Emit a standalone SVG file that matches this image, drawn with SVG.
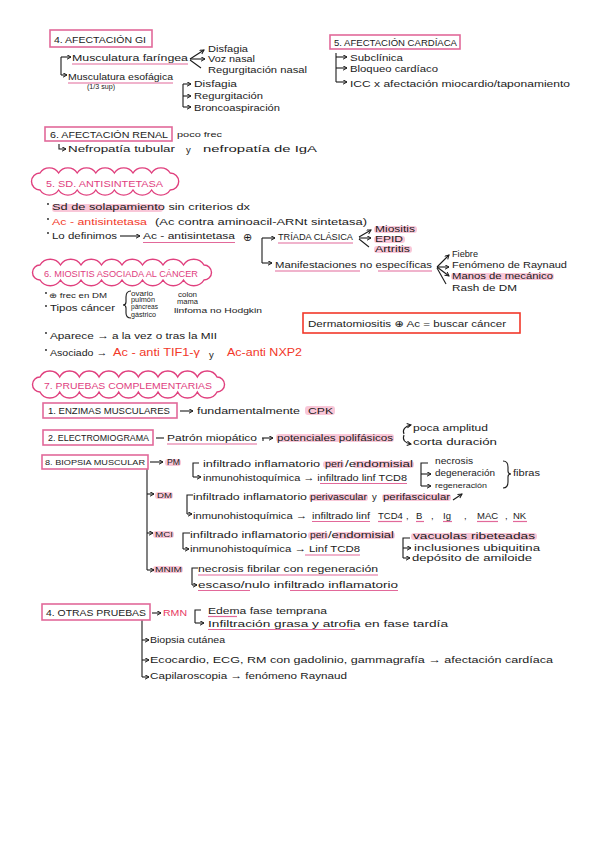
<svg xmlns="http://www.w3.org/2000/svg" width="600" height="848" viewBox="0 0 600 848">
<style>
text{font-family:"Liberation Sans","DejaVu Sans",sans-serif;font-size:9.5px;fill:#1b1b1b}
.sm{font-size:7px}
.xs{font-size:6.5px}
.cap{font-size:9px}
.pk{fill:#e0407e}
.rd{fill:#f2382a}
.box{fill:none;stroke:#e2699a;stroke-width:1.6}
.rbox{fill:none;stroke:#f2382a;stroke-width:1.6}
.cl{fill:none;stroke:#e0407e;stroke-width:1.4}
.hl{fill:#f6a9c3;opacity:.65}
.ul{stroke:#e2699a;stroke-width:1.2;fill:none}
.ln{stroke:#1b1b1b;stroke-width:1.1;fill:none}
.ar{stroke:#1b1b1b;stroke-width:1.1;fill:none;marker-end:url(#ah)}
</style>
<defs>
<marker id="ah" markerUnits="userSpaceOnUse" markerWidth="6" markerHeight="6" refX="4.5" refY="2.5" orient="auto">
<path d="M0.5,0.3 L4.5,2.5 L0.5,4.7" fill="none" stroke="#1b1b1b" stroke-width="1"/>
</marker>
</defs>
<rect width="600" height="848" fill="#ffffff"/>

<!-- highlights and underlines -->
<g id="marks">
<line class="ul" x1="72" y1="64" x2="188" y2="64"/>
<line class="ul" x1="68" y1="83" x2="173" y2="83"/>
<rect class="hl" x="52" y="204" width="111" height="8" rx="3"/>
<line class="ul" x1="143" y1="242.5" x2="235" y2="242.5"/>
<line class="ul" x1="278" y1="243" x2="353" y2="243"/>
<rect class="hl" x="374" y="226" width="43" height="7" rx="3"/>
<rect class="hl" x="374" y="236" width="31" height="7" rx="3"/>
<rect class="hl" x="374" y="246" width="38" height="7" rx="3"/>
<line class="ul" x1="275" y1="271" x2="360" y2="271"/>
<line class="ul" x1="378" y1="271" x2="432" y2="271"/>
<rect class="hl" x="451" y="273" width="103" height="7" rx="3"/>
<rect class="hl" x="305" y="406" width="30" height="9" rx="3"/>
<line class="ul" x1="167" y1="444" x2="257" y2="444"/>
<rect class="hl" x="276" y="434" width="118" height="8" rx="3"/>
<rect class="hl" x="165" y="459" width="16" height="7" rx="3"/>
<rect class="hl" x="323" y="461" width="21" height="7" rx="3"/>
<rect class="hl" x="353" y="461" width="61" height="7" rx="3"/>
<line class="ul" x1="320" y1="483.5" x2="407" y2="483.5"/>
<rect class="hl" x="155" y="492" width="18" height="7" rx="3"/>
<rect class="hl" x="309" y="494" width="59" height="7" rx="3"/>
<rect class="hl" x="382" y="494" width="69" height="7" rx="3"/>
<line class="ul" x1="312" y1="521.5" x2="370" y2="521.5"/>
<line class="ul" x1="378" y1="521.5" x2="402" y2="521.5"/>
<line class="ul" x1="416" y1="521.5" x2="424" y2="521.5"/>
<line class="ul" x1="443" y1="521.5" x2="452" y2="521.5"/>
<line class="ul" x1="477" y1="521.5" x2="498" y2="521.5"/>
<line class="ul" x1="513" y1="521.5" x2="527" y2="521.5"/>
<rect class="hl" x="153" y="531" width="21" height="7" rx="3"/>
<rect class="hl" x="308" y="532" width="20" height="7" rx="3"/>
<rect class="hl" x="334" y="532" width="61" height="7" rx="3"/>
<line class="ul" x1="305" y1="555" x2="360" y2="555"/>
<rect class="hl" x="411" y="533" width="126" height="7" rx="3"/>
<rect class="hl" x="153" y="566" width="30" height="7" rx="3"/>
<line class="ul" x1="198" y1="575" x2="378" y2="575"/>
<line class="ul" x1="198" y1="590.5" x2="250" y2="590.5"/>
<line class="ul" x1="290" y1="590.5" x2="398" y2="590.5"/>
<line class="ul" x1="208" y1="616.5" x2="237" y2="616.5"/>
<line class="ul" x1="208" y1="629.5" x2="355" y2="629.5"/>
</g>

<g id="connectors">
<path class="ln" d="M61,57 V75"/>
<path class="ar" d="M61,57 H71"/>
<path class="ar" d="M61,75 H67"/>
<path class="ar" d="M190,59 L204,50"/>
<path class="ar" d="M190,59 H205"/>
<path class="ln" d="M190,60 L201,68"/>
<path class="ln" d="M183,84 V107"/>
<path class="ar" d="M183,84 H191"/>
<path class="ar" d="M183,96 H191"/>
<path class="ar" d="M183,107 H191"/>
<path class="ln" d="M336,53 V82"/>
<path class="ar" d="M336,57 H347"/>
<path class="ar" d="M336,68 H347"/>
<path class="ar" d="M336,82 H347"/>
<path class="ar" d="M59,144 V149 H66"/>
<path class="ar" d="M120,236 H140"/>
<path class="ln" d="M262,238 V263"/>
<path class="ar" d="M262,238 H275"/>
<path class="ar" d="M262,263 H272"/>
<path class="ar" d="M359,237 L371,230"/>
<path class="ar" d="M359,238 H371"/>
<path class="ln" d="M359,239 L369,247"/>
<path class="ar" d="M437,267 L449,255"/>
<path class="ar" d="M437,267 H449"/>
<path class="ar" d="M437,267 L449,276"/>
<path class="ln" d="M437,268 L446,284"/>
<path class="ln" d="M131,291 Q126,291 126,297 V302 Q126,305 123,305 Q126,305 126,308 V313 Q126,318 131,318"/>
<path class="ar" d="M180,411 H193"/>
<path class="ln" d="M156,438 H164"/>
<path class="ar" d="M262,438 H273"/>
<path class="ln" d="M263,438 V441"/>
<path class="ar" d="M404,434 C402,430 405,426 411,425"/>
<path class="ar" d="M404,435 C402,440 405,443 411,444"/>
<path class="ln" d="M147,469 V570"/>
<path class="ar" d="M147,570 H154"/>
<path class="ar" d="M150,462 H163"/>
<path class="ar" d="M147,494 H154"/>
<path class="ar" d="M147,533 H153"/>
<path class="ln" d="M199,463 H193 V477"/>
<path class="ar" d="M193,477 H201"/>
<path class="ln" d="M428,463 H421 V486"/>
<path class="ar" d="M421,474 H431"/>
<path class="ar" d="M421,486 H431"/>
<path class="ln" d="M503,461 Q508,461 508,467 V471 Q508,474 511,474 Q508,474 508,477 V482 Q508,488 503,488"/>
<path class="ln" d="M193,495 H187 V514"/>
<path class="ar" d="M187,514 H192"/>
<path class="ar" d="M453,500 L462,494"/>
<path class="ln" d="M190,533 H183 V549"/>
<path class="ar" d="M183,549 H189"/>
<path class="ln" d="M410,538 H403 V558"/>
<path class="ar" d="M403,548 H411"/>
<path class="ar" d="M403,558 H410"/>
<path class="ln" d="M198,568 H192 V585"/>
<path class="ar" d="M192,585 H197"/>
<path class="ar" d="M152,613 H161"/>
<path class="ln" d="M201,610 H195 V623"/>
<path class="ar" d="M195,623 H204"/>
<path class="ln" d="M142,620 V677"/>
<path class="ar" d="M142,640 H149"/>
<path class="ar" d="M142,660 H149"/>
<path class="ar" d="M142,677 H149"/>
</g>

<g id="sec4-afectacion-gi">
<rect class="box" x="50" y="30" width="102" height="17"/>
<text class="cap" x="54" y="43" textLength="92" lengthAdjust="spacingAndGlyphs">4. AFECTACIÓN GI</text>
<text x="72" y="61" textLength="116" lengthAdjust="spacingAndGlyphs">Musculatura faríngea</text>
<text x="68" y="80" textLength="105" lengthAdjust="spacingAndGlyphs">Musculatura esofágica</text>
<text class="xs" x="87" y="89" textLength="28" lengthAdjust="spacingAndGlyphs">(1/3 sup)</text>
<text x="208" y="52" textLength="40" lengthAdjust="spacingAndGlyphs">Disfagia</text>
<text x="208" y="62" textLength="47" lengthAdjust="spacingAndGlyphs">Voz nasal</text>
<text x="208" y="73" textLength="99" lengthAdjust="spacingAndGlyphs">Regurgitación nasal</text>
<text x="194" y="87" textLength="43" lengthAdjust="spacingAndGlyphs">Disfagia</text>
<text x="194" y="99" textLength="69" lengthAdjust="spacingAndGlyphs">Regurgitación</text>
<text x="194" y="111" textLength="86" lengthAdjust="spacingAndGlyphs">Broncoaspiración</text>
</g>

<g id="sec5-afectacion-cardiaca">
<rect class="box" x="330" y="35" width="130" height="14"/>
<text class="cap" x="334" y="46" textLength="123" lengthAdjust="spacingAndGlyphs">5. AFECTACIÓN CARDÍACA</text>
<text x="350" y="61" textLength="53" lengthAdjust="spacingAndGlyphs">Subclínica</text>
<text x="350" y="72" textLength="88" lengthAdjust="spacingAndGlyphs">Bloqueo cardíaco</text>
<text x="350" y="87" textLength="220" lengthAdjust="spacingAndGlyphs">ICC x afectación miocardio/taponamiento</text>
</g>

<g id="sec6-afectacion-renal">
<rect class="box" x="45" y="127" width="127" height="14"/>
<text class="cap" x="50" y="138" textLength="118" lengthAdjust="spacingAndGlyphs">6. AFECTACIÓN RENAL</text>
<text class="sm" x="177" y="137" textLength="45" lengthAdjust="spacingAndGlyphs">poco frec</text>
<text x="68" y="152" textLength="107" lengthAdjust="spacingAndGlyphs">Nefropatía tubular</text>
<text x="186" y="153">y</text>
<text x="203" y="152" textLength="114" lengthAdjust="spacingAndGlyphs">nefropatía de IgA</text>
</g>

<g id="sec5-sd-antisintetasa">
<path class="cl" d="M40,173 a11,11 0 0 1 18.6,0 a11,11 0 0 1 18.6,0 a11,11 0 0 1 18.6,0 a11,11 0 0 1 18.6,0 a11,11 0 0 1 18.6,0 a11,11 0 0 1 18.6,0 a11,11 0 0 1 18.6,0 a8.5,8.5 0 0 1 0,17 a11,11 0 0 1 -18.6,0 a11,11 0 0 1 -18.6,0 a11,11 0 0 1 -18.6,0 a11,11 0 0 1 -18.6,0 a11,11 0 0 1 -18.6,0 a11,11 0 0 1 -18.6,0 a11,11 0 0 1 -18.6,0 a8.5,8.5 0 0 1 0,-17 z"/>
<text class="pk" x="46" y="187" textLength="117" lengthAdjust="spacingAndGlyphs">5. SD. ANTISINTETASA</text>
<circle cx="48" cy="204" r="0.9" fill="#1b1b1b"/>
<circle cx="48" cy="219" r="0.9" fill="#1b1b1b"/>
<circle cx="48" cy="233" r="0.9" fill="#1b1b1b"/>
<text x="52" y="210" textLength="198" lengthAdjust="spacingAndGlyphs">Sd de solapamiento sin criterios dx</text>
<text class="rd" x="52" y="225" textLength="95" lengthAdjust="spacingAndGlyphs">Ac - antisintetasa</text>
<text x="155" y="225" textLength="212" lengthAdjust="spacingAndGlyphs">(Ac contra aminoacil-ARNt sintetasa)</text>
<text x="52" y="239" textLength="65" lengthAdjust="spacingAndGlyphs">Lo definimos</text>
<text x="143" y="239" textLength="92" lengthAdjust="spacingAndGlyphs">Ac - antisintetasa</text>
<text x="243" y="241" style="font-size:11px">⊕</text>
<text x="278" y="240" textLength="75" lengthAdjust="spacingAndGlyphs">TRÍADA CLÁSICA</text>
<text x="375" y="232" textLength="40" lengthAdjust="spacingAndGlyphs">Miositis</text>
<text x="375" y="242" textLength="28" lengthAdjust="spacingAndGlyphs">EPID</text>
<text x="375" y="252" textLength="35" lengthAdjust="spacingAndGlyphs">Artritis</text>
<text x="275" y="268" textLength="157" lengthAdjust="spacingAndGlyphs">Manifestaciones no específicas</text>
<text x="452" y="257" textLength="26" lengthAdjust="spacingAndGlyphs">Fiebre</text>
<text x="452" y="268" textLength="115" lengthAdjust="spacingAndGlyphs">Fenómeno de Raynaud</text>
<text x="452" y="279" textLength="101" lengthAdjust="spacingAndGlyphs">Manos de mecánico</text>
<text x="452" y="291" textLength="65" lengthAdjust="spacingAndGlyphs">Rash de DM</text>
</g>

<g id="sec6-miositis-cancer">
<path class="cl" d="M40,265 a12,12 0 0 1 20.5,0 a12,12 0 0 1 20.5,0 a12,12 0 0 1 20.5,0 a12,12 0 0 1 20.5,0 a12,12 0 0 1 20.5,0 a12,12 0 0 1 20.5,0 a12,12 0 0 1 20.5,0 a12,12 0 0 1 20.5,0 a7.5,7.5 0 0 1 0,15 a12,12 0 0 1 -20.5,0 a12,12 0 0 1 -20.5,0 a12,12 0 0 1 -20.5,0 a12,12 0 0 1 -20.5,0 a12,12 0 0 1 -20.5,0 a12,12 0 0 1 -20.5,0 a12,12 0 0 1 -20.5,0 a12,12 0 0 1 -20.5,0 a7.5,7.5 0 0 1 0,-15 z"/>
<text class="pk" x="44" y="277" textLength="154" lengthAdjust="spacingAndGlyphs">6. MIOSITIS ASOCIADA AL CÁNCER</text>
<circle cx="46" cy="293" r="0.9" fill="#1b1b1b"/>
<circle cx="46" cy="306" r="0.9" fill="#1b1b1b"/>
<circle cx="46" cy="333" r="0.9" fill="#1b1b1b"/>
<circle cx="46" cy="350" r="0.9" fill="#1b1b1b"/>
<text class="sm" x="49" y="298" textLength="58" lengthAdjust="spacingAndGlyphs">⊕ frec en DM</text>
<text x="50" y="311" textLength="65" lengthAdjust="spacingAndGlyphs">Tipos cáncer</text>
<text class="xs" x="131" y="296" textLength="22" lengthAdjust="spacingAndGlyphs">ovario</text>
<text class="xs" x="131" y="302" textLength="24" lengthAdjust="spacingAndGlyphs">pulmón</text>
<text class="xs" x="131" y="309" textLength="27" lengthAdjust="spacingAndGlyphs">páncreas</text>
<text class="xs" x="131" y="317" textLength="25" lengthAdjust="spacingAndGlyphs">gástrico</text>
<text class="xs" x="178" y="297" textLength="19" lengthAdjust="spacingAndGlyphs">colon</text>
<text class="xs" x="177" y="304" textLength="21" lengthAdjust="spacingAndGlyphs">mama</text>
<text class="sm" x="174" y="313" textLength="88" lengthAdjust="spacingAndGlyphs">linfoma no Hodgkin</text>
<text x="50" y="339" textLength="167" lengthAdjust="spacingAndGlyphs">Aparece → a la vez o tras la MII</text>
<text x="50" y="356" textLength="57" lengthAdjust="spacingAndGlyphs">Asociado →</text>
<text class="rd" x="113" y="356" textLength="87" lengthAdjust="spacingAndGlyphs" style="font-size:10.5px">Ac - anti TIF1-γ</text>
<text x="209" y="358">y</text>
<text class="rd" x="227" y="356" textLength="75" lengthAdjust="spacingAndGlyphs" style="font-size:10.5px">Ac-anti NXP2</text>
</g>

<g id="note-dermatomiositis">
<rect class="rbox" x="303" y="313" width="217" height="20"/>
<text x="308" y="327" textLength="198" lengthAdjust="spacingAndGlyphs">Dermatomiositis ⊕ Ac = buscar cáncer</text>
</g>

<g id="sec7-pruebas">
<path class="cl" d="M40,377 a11,11 0 0 1 19.67,0 a11,11 0 0 1 19.67,0 a11,11 0 0 1 19.67,0 a11,11 0 0 1 19.67,0 a11,11 0 0 1 19.67,0 a11,11 0 0 1 19.67,0 a11,11 0 0 1 19.67,0 a11,11 0 0 1 19.67,0 a11,11 0 0 1 19.67,0 a7.5,7.5 0 0 1 0,15 a11,11 0 0 1 -19.67,0 a11,11 0 0 1 -19.67,0 a11,11 0 0 1 -19.67,0 a11,11 0 0 1 -19.67,0 a11,11 0 0 1 -19.67,0 a11,11 0 0 1 -19.67,0 a11,11 0 0 1 -19.67,0 a11,11 0 0 1 -19.67,0 a11,11 0 0 1 -19.67,0 a7.5,7.5 0 0 1 0,-15 z"/>
<text class="pk" x="44" y="389" textLength="168" lengthAdjust="spacingAndGlyphs">7. PRUEBAS COMPLEMENTARIAS</text>
</g>

<g id="p1-enzimas">
<rect class="box" x="43" y="403" width="134" height="15"/>
<text class="cap" x="48" y="414" textLength="122" lengthAdjust="spacingAndGlyphs">1. ENZIMAS MUSCULARES</text>
<text x="197" y="414" textLength="103" lengthAdjust="spacingAndGlyphs">fundamentalmente</text>
<text x="308" y="414" textLength="25" lengthAdjust="spacingAndGlyphs">CPK</text>
</g>

<g id="p2-electromiograma">
<rect class="box" x="43" y="430" width="110" height="15"/>
<text class="cap" x="48" y="441" textLength="101" lengthAdjust="spacingAndGlyphs">2. ELECTROMIOGRAMA</text>
<text x="167" y="441" textLength="90" lengthAdjust="spacingAndGlyphs">Patrón miopático</text>
<text x="277" y="441" textLength="116" lengthAdjust="spacingAndGlyphs">potenciales polifásicos</text>
<text x="413" y="431" textLength="75" lengthAdjust="spacingAndGlyphs">poca amplitud</text>
<text x="413" y="445" textLength="84" lengthAdjust="spacingAndGlyphs">corta duración</text>
</g>

<g id="p3-biopsia">
<rect class="box" x="42" y="455" width="106" height="14"/>
<text class="cap" x="45" y="465" textLength="100" lengthAdjust="spacingAndGlyphs" style="font-size:8px">8. BIOPSIA MUSCULAR</text>
<text class="cap" x="167" y="465" textLength="13" lengthAdjust="spacingAndGlyphs">PM</text>
<text x="203" y="467" textLength="117" lengthAdjust="spacingAndGlyphs">infiltrado inflamatorio</text>
<text x="325" y="467" textLength="18" lengthAdjust="spacingAndGlyphs">peri</text>
<text x="345" y="467" textLength="68" lengthAdjust="spacingAndGlyphs">/endomisial</text>
<text x="203" y="481" textLength="204" lengthAdjust="spacingAndGlyphs">inmunohistoquímica → infiltrado linf TCD8</text>
<text x="435" y="464" textLength="38" lengthAdjust="spacingAndGlyphs">necrosis</text>
<text x="435" y="476" textLength="60" lengthAdjust="spacingAndGlyphs">degeneración</text>
<text class="sm" x="435" y="488" textLength="52" lengthAdjust="spacingAndGlyphs">regeneración</text>
<text x="513" y="476" textLength="27" lengthAdjust="spacingAndGlyphs">fibras</text>
<text class="cap" x="157" y="498" textLength="15" lengthAdjust="spacingAndGlyphs" style="font-size:8px">DM</text>
<text x="193" y="500" textLength="114" lengthAdjust="spacingAndGlyphs">infiltrado inflamatorio</text>
<text x="310" y="500" textLength="57" lengthAdjust="spacingAndGlyphs">perivascular</text>
<text x="372" y="500">y</text>
<text x="383" y="500" textLength="67" lengthAdjust="spacingAndGlyphs">perifascicular</text>
<text x="193" y="519" textLength="114" lengthAdjust="spacingAndGlyphs">inmunohistoquímica →</text>
<text x="312" y="519" textLength="58" lengthAdjust="spacingAndGlyphs">infiltrado linf</text>
<text x="378" y="519">TCD4</text>
<text x="406" y="519">,</text>
<text x="416" y="519">B</text>
<text x="431" y="519">,</text>
<text x="443" y="519">Ig</text>
<text x="464" y="519">,</text>
<text x="477" y="519">MAC</text>
<text x="505" y="519">,</text>
<text x="513" y="519">NK</text>
<text class="cap" x="155" y="537" textLength="18" lengthAdjust="spacingAndGlyphs" style="font-size:8px">MCI</text>
<text x="190" y="538" textLength="117" lengthAdjust="spacingAndGlyphs">infiltrado inflamatorio</text>
<text x="310" y="538" textLength="17" lengthAdjust="spacingAndGlyphs">peri</text>
<text x="328" y="538" textLength="66" lengthAdjust="spacingAndGlyphs">/endomisial</text>
<text x="190" y="552" textLength="170" lengthAdjust="spacingAndGlyphs">inmunohistoquímica → Linf TCD8</text>
<text x="413" y="539" textLength="122" lengthAdjust="spacingAndGlyphs">vacuolas ribeteadas</text>
<text x="414" y="551" textLength="126" lengthAdjust="spacingAndGlyphs">inclusiones ubiquitina</text>
<text x="412" y="561" textLength="120" lengthAdjust="spacingAndGlyphs">depósito de amiloide</text>
<text class="cap" x="155" y="572" textLength="27" lengthAdjust="spacingAndGlyphs" style="font-size:8px">MNIM</text>
<text x="198" y="572" textLength="180" lengthAdjust="spacingAndGlyphs">necrosis fibrilar con regeneración</text>
<text x="198" y="588" textLength="200" lengthAdjust="spacingAndGlyphs">escaso/nulo infiltrado inflamatorio</text>
</g>

<g id="p4-otras-pruebas">
<rect class="box" x="42" y="604" width="108" height="16"/>
<text class="cap" x="46" y="616" textLength="100" lengthAdjust="spacingAndGlyphs">4. OTRAS PRUEBAS</text>
<text class="cap" x="163" y="616" textLength="24" lengthAdjust="spacingAndGlyphs" style="fill:#e8375f">RMN</text>
<text x="208" y="614" textLength="119" lengthAdjust="spacingAndGlyphs">Edema fase temprana</text>
<text x="208" y="627" textLength="240" lengthAdjust="spacingAndGlyphs">Infiltración grasa y atrofia en fase tardía</text>
<text x="150" y="643" textLength="75" lengthAdjust="spacingAndGlyphs">Biopsia cutánea</text>
<text x="150" y="663" textLength="403" lengthAdjust="spacingAndGlyphs">Ecocardio, ECG, RM con gadolinio, gammagrafía → afectación cardíaca</text>
<text x="150" y="679" textLength="197" lengthAdjust="spacingAndGlyphs">Capilaroscopia → fenómeno Raynaud</text>
</g>
</svg>
